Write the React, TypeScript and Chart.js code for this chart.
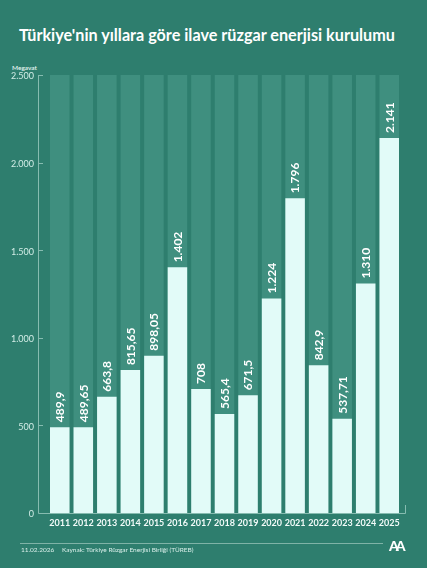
import React, { useEffect, useRef } from "react";
import { Chart, registerables } from "chart.js";

Chart.register(...registerables);

const years = ["2011", "2012", "2013", "2014", "2015", "2016", "2017", "2018", "2019", "2020", "2021", "2022", "2023", "2024", "2025"];
const megawatts = [489.9, 489.65, 663.8, 815.65, 898.05, 1402, 708, 565.4, 671.5, 1224, 1796, 842.9, 537.71, 1310, 2141];
const valueLabels = ["489,9", "489,65", "663,8", "815,65", "898,05", "1.402", "708", "565,4", "671,5", "1.224", "1.796", "842,9", "537,71", "1.310", "2.141"];
const yTicks = [0, 500, 1000, 1500, 2000, 2500];
const yTickLabels = ["0", "500", "1.000", "1.500", "2.000", "2.500"];
const yMax = 2500;

const BG = "#2e7e6e";
const COLUMN = "#3f8f7f";
const BAR = "#e2fbf8";
const AXIS = "#86bcb0";
const FONT = "Lato, 'Noto Sans', sans-serif";

export default function App() {
  const ref = useRef<HTMLCanvasElement | null>(null);

  useEffect(() => {
    document.body.style.margin = "0";
    document.body.style.background = BG;
    const canvas = ref.current;
    if (!canvas) return;

    const decor = {
      id: "decor",
      beforeDatasetsDraw(chart: any) {
        const ctx = chart.ctx;
        const meta = chart.getDatasetMeta(0);
        const y = chart.scales.y;
        const top = y.getPixelForValue(yMax);
        ctx.save();
        ctx.fillStyle = COLUMN;
        meta.data.forEach((bar: any) => {
          ctx.fillRect(bar.x - bar.width / 2, top, bar.width, bar.base - top);
        });
        const base = y.getPixelForValue(0);
        ctx.strokeStyle = AXIS;
        ctx.lineWidth = 1;
        ctx.beginPath();
        ctx.moveTo(38.5, top);
        ctx.lineTo(38.5, base + 0.5);
        ctx.lineTo(405.5, base + 0.5);
        ctx.lineTo(405.5, base - 8);
        yTicks.forEach((v) => {
          const py = Math.round(y.getPixelForValue(v)) + 0.5;
          if (v > 0) {
            ctx.moveTo(38.5, py);
            ctx.lineTo(43, py);
          }
        });
        ctx.stroke();
        ctx.restore();
      },
      afterDatasetsDraw(chart: any) {
        const ctx = chart.ctx;
        const meta = chart.getDatasetMeta(0);
        ctx.save();
        ctx.fillStyle = "#ffffff";
        ctx.font = `bold 12px ${FONT}`;
        ctx.textAlign = "left";
        ctx.textBaseline = "middle";
        meta.data.forEach((bar: any, i: number) => {
          ctx.save();
          ctx.translate(bar.x, bar.y - 5);
          ctx.rotate(-Math.PI / 2);
          ctx.fillText(valueLabels[i], 0, 0.5);
          ctx.restore();
        });
        ctx.restore();
      },
    };

    const chart = new Chart(canvas, {
      type: "bar",
      data: {
        labels: years,
        datasets: [
          {
            data: megawatts,
            backgroundColor: BAR,
            borderWidth: 0,
            barPercentage: 0.83,
            categoryPercentage: 1,
          },
        ],
      },
      options: {
        animation: false,
        responsive: false,
        maintainAspectRatio: false,
        devicePixelRatio: 1,
        layout: { padding: { left: 0, right: 26, top: 75, bottom: 35 } },
        plugins: { legend: { display: false }, tooltip: { enabled: false }, title: { display: false } },
        scales: {
          x: {
            grid: { display: false, drawTicks: false },
            border: { display: false },
            ticks: { color: "#f2fbf9", font: { family: FONT, size: 9, weight: "bold" }, padding: 5, maxRotation: 0, autoSkip: false },
            afterFit(scale: any) {
              scale.height = 20;
            },
          },
          y: {
            min: 0,
            max: yMax,
            grid: { display: false, drawTicks: false },
            border: { display: false },
            afterBuildTicks(scale: any) {
              scale.ticks = yTicks.map((v) => ({ value: v }));
            },
            ticks: {
              color: "#d3ede7",
              font: { family: FONT, size: 9 },
              padding: 14,
              labelOffset: 1.5,
              callback: (v: any) => yTickLabels[yTicks.indexOf(Number(v))] ?? "",
            },
            afterFit(scale: any) {
              scale.width = 48;
            },
          },
        },
      },
      plugins: [decor],
    });
    return () => chart.destroy();
  }, []);

  return (
    <div style={{ position: "relative", width: 427, height: 568, background: BG, overflow: "hidden", fontFamily: FONT }}>
      <div
        style={{
          position: "absolute",
          top: 25,
          left: 0,
          width: 414,
          textAlign: "center",
          color: "#ffffff",
          fontSize: 16.2,
          fontWeight: 700,
          fontFamily: FONT,
        }}
      >
        Türkiye'nin yıllara göre ilave rüzgar enerjisi kurulumu
      </div>
      <div style={{ position: "absolute", top: 64, left: 12, color: "#e6f6f2", fontSize: 6.5, fontWeight: 600 }}>Megavat</div>
      <canvas ref={ref} width={427} height={568} style={{ position: "absolute", left: 0, top: 0, width: 427, height: 568 }} />
      <div style={{ position: "absolute", top: 543, left: 20, width: 363, height: 1, background: "#7fb3a7" }} />
      <div style={{ position: "absolute", top: 546, left: 21, color: "#d9efea", fontSize: 6.5 }}>11.02.2026</div>
      <div style={{ position: "absolute", top: 546, left: 62, color: "#d9efea", fontSize: 6.5 }}>
        Kaynak: Türkiye Rüzgar Enerjisi Birliği (TÜREB)
      </div>
      <div style={{ position: "absolute", top: 537, left: 389, color: "#ffffff", fontSize: 14, fontWeight: 900, letterSpacing: -3 }}>AA</div>
    </div>
  );
}
